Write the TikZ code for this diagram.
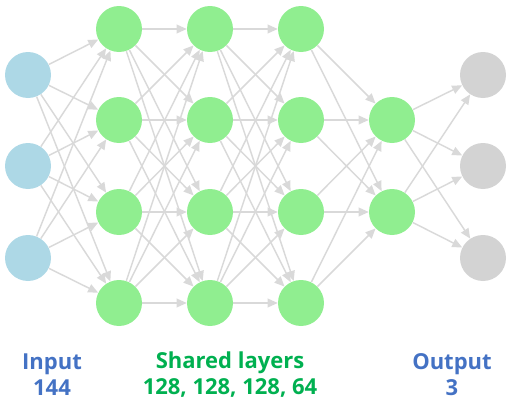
\documentclass[tikz,border=0pt]{standalone}
\usepackage{fontspec}
\newfontfamily\labelfont{Open Sans}
\usetikzlibrary{arrows.meta}

\definecolor{inblue}{HTML}{ADD8E6}
\definecolor{hidgreen}{HTML}{90EE90}
\definecolor{outgray}{HTML}{D3D3D3}
\definecolor{edgegray}{HTML}{D9D9D9}
\definecolor{textblue}{HTML}{4472C4}
\definecolor{textgreen}{HTML}{00B050}

\tikzset{
  neuron/.style={circle, minimum size=34.5pt, inner sep=0pt},
  inneuron/.style={neuron, fill=inblue},
  hidneuron/.style={neuron, fill=hidgreen},
  outneuron/.style={neuron, fill=outgray},
  link/.style={draw=edgegray, line width=1.1pt, -{Triangle[length=7.5pt,width=6.5pt]}},
  caption/.style={font=\labelfont\bfseries\fontsize{16.5}{19.5}\selectfont, align=center}
}

\begin{document}
\begin{tikzpicture}[x=0.75pt, y=-0.75pt]
  \useasboundingbox (0,0) rectangle (512,418);
  % input layer
  \node[inneuron] (I1) at (28,75) {};
  \node[inneuron] (I2) at (28,166) {};
  \node[inneuron] (I3) at (28,258) {};
  % shared layers
  \node[hidneuron] (A1) at (119,29) {};
  \node[hidneuron] (A2) at (119,120) {};
  \node[hidneuron] (A3) at (119,212) {};
  \node[hidneuron] (A4) at (119,303) {};
  \node[hidneuron] (B1) at (210,29) {};
  \node[hidneuron] (B2) at (210,120) {};
  \node[hidneuron] (B3) at (210,212) {};
  \node[hidneuron] (B4) at (210,303) {};
  \node[hidneuron] (C1) at (301,29) {};
  \node[hidneuron] (C2) at (301,120) {};
  \node[hidneuron] (C3) at (301,212) {};
  \node[hidneuron] (C4) at (301,303) {};
  \node[hidneuron] (D1) at (392,120) {};
  \node[hidneuron] (D2) at (392,212) {};
  % output layer
  \node[outneuron] (O1) at (483,75) {};
  \node[outneuron] (O2) at (483,166) {};
  \node[outneuron] (O3) at (483,258) {};

  \foreach \i in {1,2,3}
    \foreach \j in {1,...,4}
      \draw[link] (I\i) -- (A\j);
  \foreach \i in {1,...,4}
    \foreach \j in {1,...,4} {
      \draw[link] (A\i) -- (B\j);
      \draw[link] (B\i) -- (C\j);
    }
  \foreach \i in {1,...,4}
    \foreach \j in {1,2}
      \draw[link] (C\i) -- (D\j);
  \foreach \i in {1,2}
    \foreach \j in {1,2,3}
      \draw[link] (D\i) -- (O\j);

  % captions
  \node[caption, text=textblue] (incap) at (52,375) {Input\\144};
  \node[caption, text=textgreen] (hidcap) at (230,375) {Shared layers\\128, 128, 128, 64};
  \node[caption, text=textblue] (outcap) at (452,375) {Output\\3};
\end{tikzpicture}
\end{document}
